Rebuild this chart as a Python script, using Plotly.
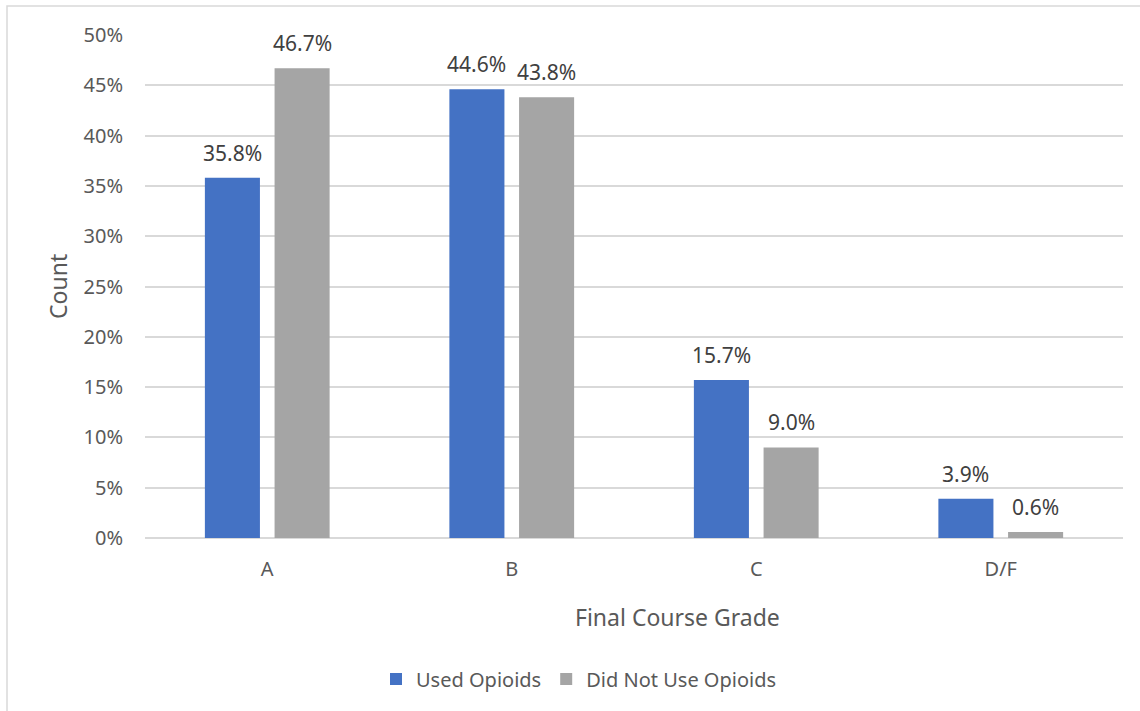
import plotly.graph_objects as go

categories = ["A", "B", "C", "D/F"]
used_opioids = [35.8, 44.6, 15.7, 3.9]
did_not_use = [46.7, 43.8, 9.0, 0.6]
series_names = ["Used Opioids", "Did Not Use Opioids"]
y_ticks = [0, 5, 10, 15, 20, 25, 30, 35, 40, 45, 50]

BLUE = "#4472C4"
GRAY = "#A5A5A5"
TXT = "#595959"
LBL = "#404040"
FONT = "Noto Sans"

W, H = 1140, 711
L, R, T, B = 145, 17, 35, 173
plot_w = W - L - R
bargap = 0.43
slot_px = plot_w / len(categories) * (1 - bargap) / 2

fig = go.Figure()
for name, vals, col in [(series_names[0], used_opioids, BLUE),
                        (series_names[1], did_not_use, GRAY)]:
    fig.add_trace(go.Bar(x=categories, y=vals, name=name, marker_color=col,
                         marker_line_width=0))

annotations = []
for i, vals in enumerate([used_opioids, did_not_use]):
    shift = (i - 0.5) * slot_px
    for c, v in zip(categories, vals):
        annotations.append(dict(x=c, y=v, xref="x", yref="y", text=f"{v:.1f}%",
                                showarrow=False, xshift=shift, yshift=9,
                                yanchor="bottom", xanchor="center",
                                font=dict(family=FONT, size=21, color=LBL)))

annotations.append(dict(x=(677 - L) / plot_w, y=(H - B - 617) / (H - T - B),
                        xref="paper", yref="paper", text="Final Course Grade",
                        showarrow=False, xanchor="center", yanchor="middle",
                        font=dict(family=FONT, size=23, color=TXT)))
annotations.append(dict(x=(57.5 - L) / plot_w, y=0.5, xref="paper", yref="paper",
                        text="Count", textangle=-90, showarrow=False,
                        xanchor="center", yanchor="middle",
                        font=dict(family=FONT, size=23, color=TXT)))

fig.update_layout(
    width=W, height=H,
    margin=dict(l=L, r=R, t=T, b=B),
    paper_bgcolor="white", plot_bgcolor="white",
    barmode="group", bargap=bargap, bargroupgap=0.21,
    font=dict(family=FONT, size=20, color=TXT),
    showlegend=True,
    legend=dict(orientation="h", x=(579 - L) / plot_w, xanchor="center",
                y=(H - B - 679) / (H - T - B), yanchor="middle",
                font=dict(family=FONT, size=20, color=TXT),
                itemwidth=30, traceorder="normal"),
    annotations=annotations,
    shapes=[dict(type="rect", xref="paper", yref="paper",
                 x0=(7 - L) / plot_w, x1=1.2,
                 y0=(H - B - 6) / (H - T - B), y1=-0.6,
                 line=dict(color="#d9d9d9", width=1.5), layer="below")],
)
fig.update_xaxes(showgrid=False, showline=False, ticks="", ticklabelstandoff=17,
                 tickfont=dict(family=FONT, size=20, color=TXT))
fig.update_yaxes(range=[0, 50], tickvals=y_ticks,
                 ticktext=[f"{t}%" for t in y_ticks],
                 showgrid=True, gridcolor="#d9d9d9", gridwidth=1.5,
                 zeroline=True, zerolinecolor="#d9d9d9", zerolinewidth=1.5,
                 showline=False, ticks="", ticklabelstandoff=21,
                 tickfont=dict(family=FONT, size=20, color=TXT))

fig.write_html("out.html")
